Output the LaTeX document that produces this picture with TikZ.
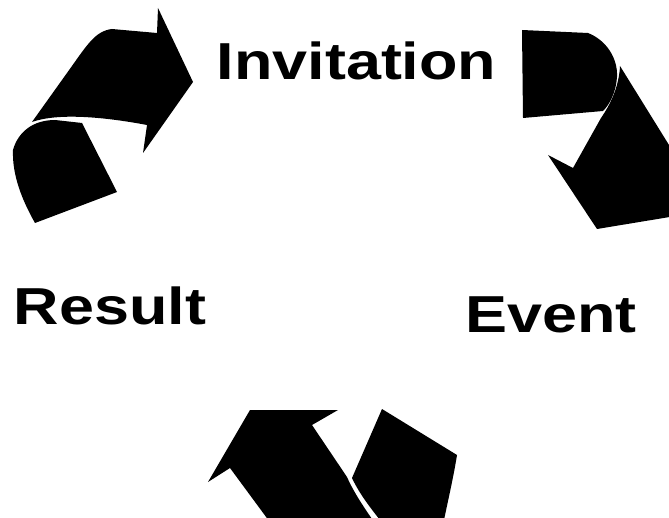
\documentclass[tikz,border=0pt]{standalone}
\usepackage{fontspec}
\setmainfont{Liberation Sans}
\begin{document}
\begin{tikzpicture}[x=1pt,y=-1pt,
  piece/.style={fill=black,draw=none},
  lbl/.style={anchor=base,inner sep=0pt,font=\fontsize{52}{60}\selectfont\bfseries}]
\useasboundingbox (0,0) rectangle (669,518);
\clip (0,0) rectangle (669,518);
% top-left arrow
\path[piece] (32,122) -- (67,73) .. controls (87,45) and (95,31) .. (112,29)
  -- (157,33) -- (158,8) -- (193,82) -- (143,153) -- (147,125)
  .. controls (110,118) and (60,112) .. (32,122) -- cycle;
\path[piece] (13,150) .. controls (18,132) and (33,120) .. (55,120) -- (82,123)
  -- (117,192) -- (35,223) .. controls (22,200) and (12,175) .. (13,150) -- cycle;
% top-right arrow
\path[piece] (522,30) -- (588,33) .. controls (606,40) and (618,58) .. (617,77)
  .. controls (616,92) and (610,104) .. (603,111) -- (523,118) -- cycle;
\path[piece] (620,66) -- (700,195) -- (700,212) -- (597,229) -- (548,155)
  -- (573,168) -- (601,118) .. controls (612,102) and (619,85) .. (620,66) -- cycle;
% bottom arrow
\path[piece] (208,482) -- (250,410) -- (338,410) -- (312,425) -- (347,477)
  .. controls (355,495) and (366,510) .. (376,525) -- (272,525) -- (230,468) -- cycle;
\path[piece] (382,409) -- (457,455) .. controls (453,480) and (448,500) .. (443,525)
  -- (384,525) .. controls (372,510) and (360,495) .. (352,478) -- cycle;
% labels
\node[lbl] (inv) at (356.5,80) {\scalebox{1.21}[1]{Invitation}};
\node[lbl] (res) at (110,325) {\scalebox{1.21}[1]{Result}};
\node[lbl] (evt) at (551,333) {\scalebox{1.21}[1]{Event}};
\end{tikzpicture}
\end{document}
